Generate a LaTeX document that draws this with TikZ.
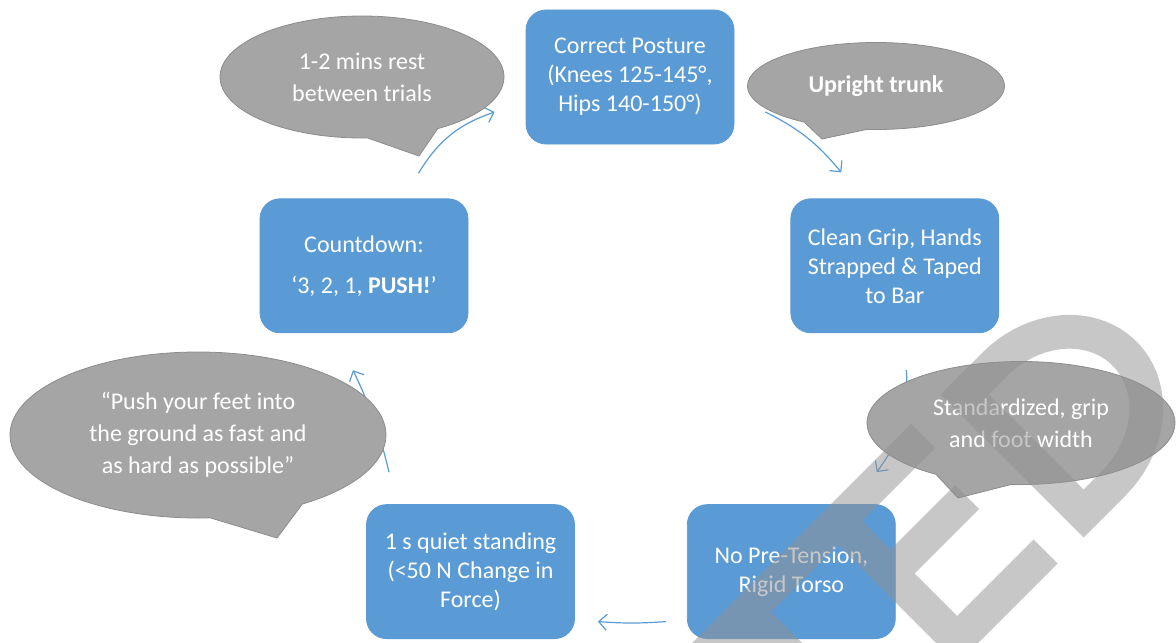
\documentclass[tikz,border=0pt]{standalone}
\usepackage{fontspec}
\setmainfont{Carlito}
\usetikzlibrary{arrows.meta,positioning,calc,shapes.geometric,shapes.callouts}

\definecolor{boxblue}{HTML}{5B9BD5}
\definecolor{bubblegrey}{HTML}{A5A5A5}
\definecolor{bubbleline}{HTML}{8C8C8C}
\definecolor{markgrey}{HTML}{909090}

\begin{document}
\begin{tikzpicture}[
  x=0.5pt, y=-0.5pt,
  every node/.style={font=\fontsize{12}{14.5}\selectfont, text=white},
  stepbox/.style={rectangle, draw=boxblue, fill=boxblue, rounded corners=10pt, align=center,
              minimum width=104pt, minimum height=67pt, inner sep=2pt},
  bubble/.style={ellipse callout, draw=bubbleline, line width=0.4pt, fill=bubblegrey,
              align=center, inner sep=0pt, callout pointer arc=30,
              font=\fontsize{12}{16}\selectfont},
  flow/.style={draw=boxblue, line width=0.6pt, -{Straight Barb[length=4pt,width=8pt]}}
]
\useasboundingbox (0,0) rectangle (1176,642);

% =======================================================
%                     TEST PROTOCOL STEPS
% =======================================================
\node[stepbox] (posture) at (630,77) {Correct Posture\\(Knees 125-145°,\\Hips 140-150°)};
\node[stepbox, below right=27pt and 28pt of posture] (grip) {Clean Grip, Hands\\Strapped \& Taped\\to Bar};
\node[stepbox, below=85.5pt of grip, xshift=-51.75pt] (tension) {No Pre-Tension,\\Rigid Torso};
\node[stepbox, left=56pt of tension] (quiet) {1 s quiet standing\\(<50 N Change in\\Force)};
\node[stepbox, above=85.5pt of quiet, xshift=-53.25pt] (count) {Countdown:\\[6pt]‘3, 2, 1, \textbf{PUSH!}’};

% =======================================================
%                     CYCLE ARROWS
% =======================================================
\coordinate (cd_out) at ($(count.north east)+(-50,-25)$);
\coordinate (cp_in) at ($(posture.west)+(-31,35)$);
\coordinate (cp_out) at ($(posture.east)+(31,35)$);
\coordinate (cg_in) at ($(grip.north)+(-53.5,-26)$);
\coordinate (cg_out) at ($(grip.south)+(11.5,37)$);
\coordinate (nt_in) at ($(tension.north east)+(-19,-32)$);
\coordinate (nt_out) at ($(tension.west)+(-21,50)$);
\coordinate (qs_in) at ($(quiet.east)+(23,50)$);
\coordinate (qs_out) at ($(quiet.north)+(-81.5,-32)$);
\coordinate (cd_in) at ($(count.south)+(-11,37)$);

\draw[flow] (cd_out) to[bend left=20] (cp_in);
\draw[flow] (cp_out) to[bend left=12] (cg_in);
\draw[flow] (cg_out) to[bend left=20] (nt_in);
\draw[flow] (nt_out) to[bend left=4] (qs_in);
\draw[flow] (qs_out) to[bend right=6] (cd_in);

% =======================================================
%                     SPEECH BUBBLES
% =======================================================
\node[bubble, minimum width=142pt, minimum height=61pt, callout absolute pointer={(419,156)}]
  (rest) at (362,77) {1-2 mins rest\\between trials};
\node[bubble, minimum width=128.5pt, minimum height=43.5pt, callout absolute pointer={(822,139)}]
  (upright) at (876,86) {\textbf{Upright trunk}};
\node[bubble, minimum width=154pt, minimum height=61.5pt, callout absolute pointer={(958,498)}]
  (stance) at (1021,423) {Standardized, grip\\and foot width};
\node[bubble, minimum width=188pt, minimum height=83pt, callout absolute pointer={(277,538)}]
  (cue) at (198,435) {“Push your feet into\\the ground as fast and\\as hard as possible”};

% watermark
\begin{scope}
\clip (0,0) rectangle (1176,642);
\begin{scope}[x={(0.25pt,0.25pt)}, y={(0.25pt,-0.25pt)}]
\fill[markgrey, fill opacity=0.5] (-200,1335) -- (487,1335) -- (487,1383) -- (341,1383)
  -- (341,1440) -- (470,1440) -- (470,1488) -- (341,1488) -- (341,1573) -- (494,1573)
  -- (494,1621) -- (293,1621) -- (293,1383) -- (159,1383) -- (159,1700) -- (-200,1700) -- cycle;
\fill[markgrey, fill opacity=0.5, even odd rule]
  (546,1335) -- (630,1335) -- plot[domain=-90:90, samples=40] ({630+165*cos(\x)},{1478+143*sin(\x)})
  -- (546,1621) -- cycle
  (594,1383) -- (630,1383) -- plot[domain=-90:90, samples=40] ({630+117*cos(\x)},{1478+95*sin(\x)})
  -- (594,1573) -- cycle;
\end{scope}
\end{scope}

\end{tikzpicture}
\end{document}
